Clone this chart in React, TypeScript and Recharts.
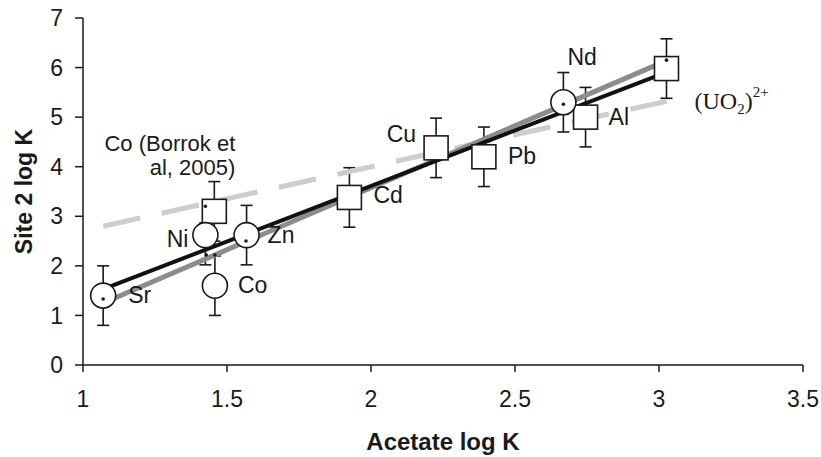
import React from 'react';
import { ComposedChart, Scatter, Line, XAxis, YAxis, ErrorBar, Label } from 'recharts';

// ---- data ----
const circleNames = ['Sr', 'Ni', 'Co', 'Zn', 'Nd'];
const circleX = [1.07, 1.425, 1.458, 1.568, 2.668];
const circleY = [1.4, 2.62, 1.6, 2.62, 5.3];
const circleErrLow = [0.6, 0.6, 0.6, 0.6, 0.6];
const circleErrHigh = [0.6, 0.25, 0.6, 0.6, 0.6];

const squareNames = ['CoB', 'Cd', 'Cu', 'Pb', 'Al', 'UO2'];
const squareX = [1.456, 1.925, 2.226, 2.392, 2.745, 3.026];
const squareY = [3.1, 3.38, 4.38, 4.2, 5.0, 5.98];
const squareErrLow = [0.6, 0.6, 0.6, 0.6, 0.6, 0.6];
const squareErrHigh = [0.6, 0.6, 0.6, 0.6, 0.6, 0.6];

const dotX = [1.07, 1.425, 1.428, 1.458, 1.566, 2.668, 3.026];
const dotY = [1.33, 3.2, 2.22, 2.22, 2.5, 5.26, 6.15];

const blackFitX = [1.07, 3.036];
const blackFitY = [1.53, 5.93];
const grayFitX = [1.07, 2.99];
const grayFitY = [1.25, 6.05];
const dashFitX = [1.07, 3.026];
const dashFitY = [2.8, 5.32];

const xTicks = [1, 1.5, 2, 2.5, 3, 3.5];
const yTicks = [0, 1, 2, 3, 4, 5, 6, 7];

const xTitle = 'Acetate log K';
const yTitle = 'Site 2 log K';
const borrokLines = ['Co (Borrok et', 'al, 2005)'];

// ---- built tables ----
const circles = circleNames.map((name, i) => ({
  name, x: circleX[i], y: circleY[i], err: [circleErrLow[i], circleErrHigh[i]],
}));
const squares = squareNames.map((name, i) => ({
  name, x: squareX[i], y: squareY[i], err: [squareErrLow[i], squareErrHigh[i]],
}));
const dots = dotX.map((x, i) => ({ x, y: dotY[i] }));
const toLine = (xs: number[], ys: number[]) => xs.map((x, i) => ({ x, y: ys[i] }));
const blackFit = toLine(blackFitX, blackFitY);
const grayFit = toLine(grayFitX, grayFitY);
const dashFit = toLine(dashFitX, dashFitY);

// ---- styles ----
const FONT = '"Liberation Sans", Arial, Helvetica, sans-serif';
const INK = '#1a1a1a';
const FS = 23;

const labelPos: Record<string, { dx: number; dy: number; anchor: 'start' | 'end' | 'middle' }> = {
  Sr: { dx: 25, dy: 7, anchor: 'start' },
  Ni: { dx: -17, dy: 12, anchor: 'end' },
  Co: { dx: 23, dy: 7, anchor: 'start' },
  Zn: { dx: 21, dy: 8, anchor: 'start' },
  Nd: { dx: 4, dy: -37, anchor: 'start' },
  Cd: { dx: 24, dy: 6, anchor: 'start' },
  Cu: { dx: -20, dy: -6, anchor: 'end' },
  Pb: { dx: 24, dy: 7, anchor: 'start' },
  Al: { dx: 23, dy: 8, anchor: 'start' },
  UO2: { dx: 28, dy: 40, anchor: 'start' },
  CoB: { dx: 21, dy: -60, anchor: 'end' },
};

const PointLabel = ({ cx, cy, name }: any) => {
  const l = labelPos[name];
  if (!l) return null;
  if (name === 'UO2') {
    return (
      <text x={cx + l.dx} y={cy + l.dy} fontFamily='"Liberation Serif", "Times New Roman", serif' fontSize={24} fill={INK}>
        (UO
        <tspan fontSize={15} dy={5}>2</tspan>
        <tspan dy={-5}>)</tspan>
        <tspan fontSize={15} dy={-12}>2+</tspan>
      </text>
    );
  }
  if (name === 'CoB') {
    return (
      <g>
        <text x={cx + l.dx} y={cy + l.dy} textAnchor="end" fontFamily={FONT} fontSize={22} fill={INK}>
          {borrokLines[0]}
        </text>
        <text x={cx + l.dx} y={cy + l.dy + 24} textAnchor="end" fontFamily={FONT} fontSize={22} fill={INK}>
          {borrokLines[1]}
        </text>
      </g>
    );
  }
  return (
    <text x={cx + l.dx} y={cy + l.dy} textAnchor={l.anchor} fontFamily={FONT} fontSize={FS} fill={INK}>
      {name}
    </text>
  );
};

const CircleShape = (props: any) => {
  const { cx, cy, payload } = props;
  return (
    <g>
      <circle cx={cx} cy={cy} r={12.5} fill="#fff" stroke={INK} strokeWidth={1.6} />
      <PointLabel cx={cx} cy={cy} name={payload.name} />
    </g>
  );
};

const SquareShape = (props: any) => {
  const { cx, cy, payload } = props;
  return (
    <g>
      <rect x={cx - 12} y={cy - 12} width={24} height={24} fill="#fff" stroke={INK} strokeWidth={1.6} />
      <PointLabel cx={cx} cy={cy} name={payload.name} />
    </g>
  );
};

const DotShape = (props: any) => <circle cx={props.cx} cy={props.cy} r={1.8} fill={INK} />;

const XTitle = (props: any) => {
  const vb = props.viewBox;
  return (
    <text x={vb.x + vb.width / 2} y={vb.y + 85} textAnchor="middle" fontFamily={FONT} fontSize={24} fontWeight="bold" fill={INK}>
      {xTitle}
    </text>
  );
};

const YTitle = (props: any) => {
  const vb = props.viewBox;
  const cx = vb.x + 24;
  const cy = vb.y + vb.height / 2;
  return (
    <text x={cx} y={cy} transform={`rotate(-90, ${cx}, ${cy})`} textAnchor="middle" dominantBaseline="central" fontFamily={FONT} fontSize={23} fontWeight="bold" fill={INK}>
      {yTitle}
    </text>
  );
};

export default function App() {
  return (
    <div style={{ position: 'absolute', left: 0, top: 0, background: '#fff' }}>
      <ComposedChart width={821} height={457} margin={{ top: 18, right: 18, bottom: 0, left: 0 }}>
        <XAxis
          type="number"
          dataKey="x"
          domain={[1, 3.5]}
          ticks={xTicks}
          height={92}
          tickSize={7}
          tickMargin={19}
          stroke={INK}
          axisLine={{ stroke: INK, strokeWidth: 1.5 }}
          tickLine={{ stroke: INK, strokeWidth: 1.5 }}
          tick={{ fill: INK, fontSize: FS, fontFamily: FONT }}
          allowDataOverflow
        >
          <Label content={<XTitle />} />
        </XAxis>
        <YAxis
          type="number"
          dataKey="y"
          domain={[0, 7]}
          ticks={yTicks}
          width={83}
          tickSize={8}
          tickMargin={12}
          stroke={INK}
          axisLine={{ stroke: INK, strokeWidth: 1.5 }}
          tickLine={{ stroke: INK, strokeWidth: 1.5 }}
          tick={{ fill: INK, fontSize: FS, fontFamily: FONT }}
          allowDataOverflow
        >
          <Label content={<YTitle />} />
        </YAxis>
        <Scatter data={squares} shape={<SquareShape />} isAnimationActive={false}>
          <ErrorBar dataKey="err" direction="y" width={6} stroke={INK} strokeWidth={1.6} />
        </Scatter>
        <Scatter data={circles} shape={<CircleShape />} isAnimationActive={false}>
          <ErrorBar dataKey="err" direction="y" width={6} stroke={INK} strokeWidth={1.6} />
        </Scatter>
        <Line data={dashFit} dataKey="y" type="linear" stroke="#cdcdcd" strokeWidth={5} strokeDasharray="38 22" dot={false} activeDot={false} isAnimationActive={false} />
        <Line data={grayFit} dataKey="y" type="linear" stroke="#8c8c8c" strokeWidth={5} dot={false} activeDot={false} isAnimationActive={false} />
        <Line data={blackFit} dataKey="y" type="linear" stroke="#111" strokeWidth={4} dot={false} activeDot={false} isAnimationActive={false} />
        <Scatter data={dots} shape={<DotShape />} isAnimationActive={false} />
      </ComposedChart>
    </div>
  );
}
